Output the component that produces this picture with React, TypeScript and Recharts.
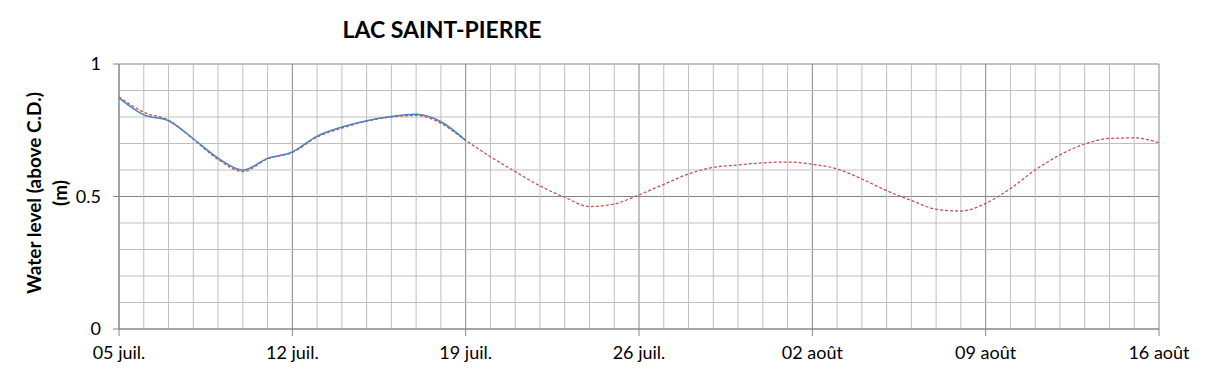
import { CartesianGrid, Line, LineChart, ReferenceLine, XAxis, YAxis } from 'recharts'

// days since 05 juil.
const DAYS = [
  0, 1, 2, 3, 4, 5, 6, 7, 8, 9, 10, 11, 12, 13, 14, 15, 16, 17, 18, 19, 20,
  21, 22, 23, 24, 25, 26, 27, 28, 29, 30, 31, 32, 33, 34, 35, 36, 37, 38, 39, 40,
  41, 42,
]

// predicted level (red dashed)
const FORECAST = [
  0.876, 0.818, 0.788, 0.716, 0.64, 0.594, 0.642, 0.666, 0.724, 0.758, 0.784,
  0.8, 0.806, 0.776, 0.712, 0.65, 0.594, 0.54, 0.497, 0.462, 0.472, 0.506,
  0.546, 0.585, 0.61, 0.619, 0.627, 0.63, 0.622, 0.604, 0.566, 0.522, 0.485,
  0.452, 0.445, 0.474, 0.53, 0.6, 0.657, 0.698, 0.719, 0.721, 0.703,
]

// observed level (blue), up to 19 juil.
const OBSERVED = [
  0.872, 0.808, 0.786, 0.718, 0.645, 0.6, 0.644, 0.668, 0.728, 0.762, 0.786,
  0.802, 0.81, 0.782, 0.712,
]

const TICK_DAYS = [0, 7, 14, 21, 28, 35, 42]
const TICK_LABELS = ['05 juil.', '12 juil.', '19 juil.', '26 juil.', '02 août', '09 août', '16 août']
const LEVEL_TICKS = [0, 0.5, 1]
const LEVEL_LABELS = ['0', '0.5', '1']

const MINOR_DAYS = DAYS.filter((d) => d % 7 !== 0)
const MINOR_LEVELS = [0.1, 0.2, 0.3, 0.4, 0.6, 0.7, 0.8, 0.9]

const data = DAYS.map((day, i) => ({
  day,
  forecast: FORECAST[i],
  observed: OBSERVED[i],
}))

const FONT = 'Lato, "Noto Sans", sans-serif'
const tick = { fill: '#000', fontSize: 18, fontFamily: FONT }

export default function App() {
  return (
    <div style={{ position: 'absolute', left: 0, top: 0, width: 1209, height: 378, background: '#fff' }}>
      <div
        style={{
          position: 'absolute',
          left: 0,
          width: 884,
          top: 15,
          textAlign: 'center',
          fontFamily: FONT,
          fontWeight: 700,
          fontSize: 23,
        }}
      >
        LAC SAINT-PIERRE
      </div>
      <div
        style={{
          position: 'absolute',
          left: 47 - 150,
          top: 193 - 26,
          width: 300,
          height: 52,
          transform: 'rotate(-90deg)',
          textAlign: 'center',
          fontFamily: FONT,
          fontWeight: 700,
          fontSize: 19,
          lineHeight: '26px',
        }}
      >
        Water level (above C.D.)
        <br />
        (m)
      </div>
      <LineChart width={1209} height={378} data={data} margin={{ top: 64, right: 50, bottom: 0, left: 0 }}>
        {MINOR_DAYS.map((d) => (
          <ReferenceLine key={'d' + d} x={d} stroke="#bfbfbf" strokeWidth={1} />
        ))}
        {MINOR_LEVELS.map((v) => (
          <ReferenceLine key={'v' + v} y={v} stroke="#bfbfbf" strokeWidth={1} />
        ))}
        <CartesianGrid stroke="#868686" strokeWidth={1} />
        <XAxis
          dataKey="day"
          type="number"
          domain={[0, 42]}
          ticks={TICK_DAYS}
          tickFormatter={(d) => TICK_LABELS[TICK_DAYS.indexOf(d)]}
          tick={tick}
          height={49}
          tickSize={7}
          tickMargin={10}
          stroke="#868686"
          interval={0}
        />
        <YAxis
          type="number"
          domain={[0, 1]}
          ticks={LEVEL_TICKS}
          tickFormatter={(v) => LEVEL_LABELS[LEVEL_TICKS.indexOf(v)]}
          tick={tick}
          width={119}
          tickSize={6}
          tickMargin={12}
          stroke="#868686"
          interval={0}
        />
        <Line
          dataKey="forecast"
          type="monotone"
          stroke="#c0504d"
          strokeWidth={1.25}
          strokeDasharray="3 2"
          dot={false}
          isAnimationActive={false}
        />
        <Line
          dataKey="observed"
          type="monotone"
          stroke="#4f81bd"
          strokeWidth={1.5}
          dot={false}
          isAnimationActive={false}
          connectNulls={false}
        />
      </LineChart>
    </div>
  )
}
